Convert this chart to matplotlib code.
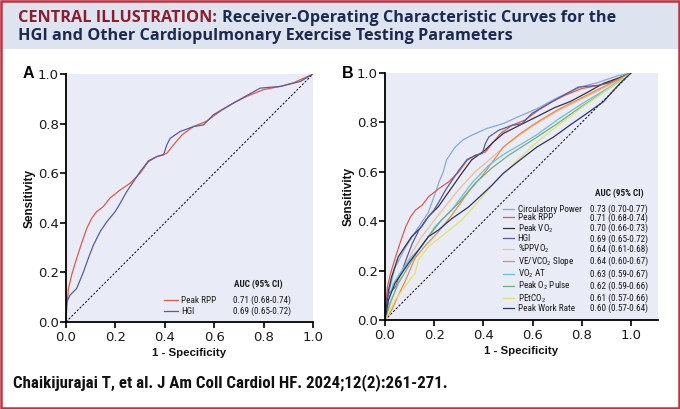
import matplotlib
matplotlib.use('Agg')
import matplotlib.pyplot as plt
from matplotlib import font_manager
from matplotlib.patches import Rectangle
from matplotlib.transforms import IdentityTransform

# --- fonts ---
avail = {f.name for f in font_manager.fontManager.ttflist}
NARROW = next((n for n in ['Roboto Condensed', 'Liberation Sans Narrow', 'Open Sans Condensed']
               if n in avail), 'Liberation Sans')
BODY = ['Liberation Sans', 'DejaVu Sans']
plt.rcParams['font.family'] = BODY
plt.rcParams['mathtext.default'] = 'regular'

# --- data: ROC curves (1 - specificity, sensitivity) ---
FPR_RPP = [0, 0.003, 0.01, 0.023, 0.043, 0.064, 0.084, 0.104, 0.124, 0.151, 0.178, 0.219, 0.26, 0.3,
           0.334, 0.368, 0.408, 0.435, 0.47, 0.516, 0.57, 0.624, 0.678, 0.732, 0.8, 0.868, 0.92, 1.0]
TPR_RPP = [0, 0.06, 0.135, 0.19, 0.256, 0.32, 0.377, 0.418, 0.445, 0.465, 0.5, 0.532, 0.56, 0.6,
           0.647, 0.667, 0.68, 0.714, 0.755, 0.788, 0.81, 0.85, 0.883, 0.91, 0.937, 0.95, 0.964, 1.0]

FPR_HGI = [0, 0.003, 0.016, 0.043, 0.07, 0.09, 0.111, 0.138, 0.165, 0.199, 0.219, 0.246, 0.273, 0.3,
           0.334, 0.368, 0.395, 0.408, 0.422, 0.462, 0.516, 0.557, 0.597, 0.678, 0.786, 0.868, 0.949, 1.0]
TPR_HGI = [0, 0.08, 0.108, 0.135, 0.2, 0.256, 0.31, 0.364, 0.404, 0.445, 0.478, 0.526, 0.566, 0.606,
           0.65, 0.667, 0.674, 0.714, 0.741, 0.768, 0.788, 0.795, 0.836, 0.883, 0.943, 0.95, 0.97, 1.0]

FPR_CIRC = [0, 0.01, 0.02, 0.04, 0.081, 0.122, 0.149, 0.176, 0.203, 0.22, 0.237, 0.25, 0.285, 0.318,
            0.346, 0.413, 0.48, 0.535, 0.617, 0.7, 0.8, 0.86, 0.95, 1.0]
TPR_CIRC = [0, 0.08, 0.13, 0.21, 0.29, 0.355, 0.395, 0.435, 0.51, 0.56, 0.6, 0.648, 0.7, 0.73,
            0.745, 0.775, 0.795, 0.82, 0.855, 0.9, 0.945, 0.96, 0.99, 1.0]

FPR_VO2 = [0, 0.014, 0.027, 0.054, 0.081, 0.108, 0.149, 0.176, 0.217, 0.26, 0.312, 0.352, 0.407, 0.44,
           0.481, 0.55, 0.617, 0.69, 0.752, 0.82, 0.888, 0.95, 1.0]
TPR_VO2 = [0, 0.12, 0.175, 0.256, 0.297, 0.337, 0.378, 0.418, 0.459, 0.52, 0.594, 0.648, 0.688, 0.72,
           0.755, 0.79, 0.823, 0.86, 0.884, 0.92, 0.958, 0.98, 1.0]

FPR_PPVO2 = [0, 0.034, 0.068, 0.108, 0.149, 0.19, 0.244, 0.298, 0.366, 0.42, 0.5, 0.6, 0.7, 0.8, 0.9, 1.0]
TPR_PPVO2 = [0, 0.1, 0.19, 0.27, 0.337, 0.39, 0.459, 0.526, 0.6, 0.645, 0.715, 0.785, 0.845, 0.895, 0.945, 1.0]

FPR_VEVCO2 = [0, 0.027, 0.054, 0.081, 0.122, 0.163, 0.217, 0.271, 0.339, 0.4, 0.481, 0.55, 0.617, 0.7,
              0.8, 0.9, 1.0]
TPR_VEVCO2 = [0, 0.04, 0.1, 0.155, 0.25, 0.3, 0.357, 0.424, 0.518, 0.59, 0.7, 0.755, 0.8, 0.85,
              0.9, 0.95, 1.0]

FPR_VO2AT = [0, 0.014, 0.034, 0.068, 0.108, 0.149, 0.203, 0.271, 0.352, 0.42, 0.481, 0.55, 0.617, 0.7,
             0.8, 0.9, 1.0]
TPR_VO2AT = [0, 0.08, 0.148, 0.2, 0.256, 0.297, 0.378, 0.445, 0.553, 0.625, 0.67, 0.71, 0.75, 0.81,
             0.875, 0.935, 1.0]

FPR_O2P = [0, 0.02, 0.054, 0.095, 0.136, 0.176, 0.23, 0.298, 0.366, 0.434, 0.5, 0.617, 0.7, 0.8, 0.9, 1.0]
TPR_O2P = [0, 0.067, 0.148, 0.216, 0.283, 0.337, 0.405, 0.472, 0.553, 0.615, 0.665, 0.74, 0.795, 0.865,
           0.93, 1.0]

FPR_PETCO2 = [0, 0.014, 0.04, 0.081, 0.122, 0.136, 0.176, 0.244, 0.312, 0.38, 0.447, 0.52, 0.617, 0.7,
              0.8, 0.9, 1.0]
TPR_PETCO2 = [0, 0.027, 0.08, 0.135, 0.19, 0.243, 0.297, 0.35, 0.405, 0.48, 0.56, 0.63, 0.72, 0.785,
              0.86, 0.93, 1.0]

FPR_PWR = [0, 0.014, 0.04, 0.068, 0.095, 0.136, 0.176, 0.217, 0.271, 0.339, 0.386, 0.434, 0.481, 0.549,
           0.617, 0.684, 0.752, 0.82, 0.888, 0.955, 1.0]
TPR_PWR = [0, 0.08, 0.148, 0.189, 0.229, 0.283, 0.337, 0.364, 0.41, 0.457, 0.5, 0.545, 0.594, 0.648,
           0.70, 0.74, 0.789, 0.836, 0.884, 0.958, 1.0]

CHANCE = [0, 1]

NAMES_A = ['Peak RPP', 'HGI']
AUC_A = ['0.71 (0.68-0.74)', '0.69 (0.65-0.72)']

NAMES_B = ['Circulatory Power', 'Peak RPP', 'Peak VO$_2$', 'HGI', '%PPVO$_2$', 'VE/VCO$_2$ Slope',
           'VO$_2$ AT', 'Peak O$_2$ Pulse', 'PEtCO$_2$', 'Peak Work Rate']
AUC_B = ['0.73 (0.70-0.77)', '0.71 (0.68-0.74)', '0.70 (0.66-0.73)', '0.69 (0.65-0.72)',
         '0.64 (0.61-0.68)', '0.64 (0.60-0.67)', '0.63 (0.59-0.67)', '0.62 (0.59-0.66)',
         '0.61 (0.57-0.66)', '0.60 (0.57-0.64)']

TICKS = [0, 0.2, 0.4, 0.6, 0.8, 1.0]

# styles
C_CIRC, C_RPP, C_VO2, C_HGI = '#86abd9', '#de5b4c', '#34343f', '#5a5c9c'
C_PPVO2, C_VEVCO2, C_VO2AT = '#f3bf8c', '#ec8a4e', '#6cc0dc'
C_O2P, C_PETCO2, C_PWR = '#6fb07e', '#dce66a', '#2a3566'
RED_BORDER = '#c3313d'
TITLE_RED = '#8c1d2c'
NAVY = '#1d2a4f'
BAND = '#dee3f0'
PLOT_BG = '#e9ebf6'
TXT = '#1a1a1a'
LEG_FS = 6.6

W, H = 680, 409
fig = plt.figure(figsize=(W / 100, H / 100), dpi=100)

# frame and title band
fig.patches.append(Rectangle((0, 1 - 49 / H), 1, 49 / H, transform=fig.transFigure,
                             facecolor=BAND, edgecolor='none', zorder=0))
fig.patches.append(Rectangle((1.2 / W, 1.2 / H), 1 - 2.4 / W, 1 - 2.4 / H, transform=fig.transFigure,
                             facecolor='none', edgecolor=RED_BORDER, lw=1.8, zorder=10))


def style_axes(ax, xmax):
    ax.set_facecolor(PLOT_BG)
    ax.set_xlim(0, xmax)
    ax.set_ylim(0, 1)
    for s in ['top', 'right']:
        ax.spines[s].set_visible(False)
    for s in ['left', 'bottom']:
        ax.spines[s].set_linewidth(1.3)
        ax.spines[s].set_color('black')
    ax.set_xticks(TICKS)
    ax.set_yticks(TICKS)
    ax.set_xticklabels([f'{t:.1f}' for t in TICKS])
    ax.set_yticklabels([f'{t:.1f}' for t in TICKS])
    ax.tick_params(direction='out', length=4, width=1.2, colors='black', labelcolor=TXT)
    ax.tick_params(axis='y', pad=1.2)
    ax.tick_params(axis='x', pad=2.5)
    for lab in ax.get_xticklabels() + ax.get_yticklabels():
        lab.set_fontfamily('DejaVu Sans')
        lab.set_fontsize(9.5)
    ax.set_xlabel('1 - Specificity', fontsize=8.2, fontweight='bold', color='#111111', labelpad=3)
    ax.set_ylabel('Sensitivity', fontsize=8.5, fontweight='bold', color='#111111', labelpad=1.5)
    ax.plot(CHANCE, CHANCE, color='black', lw=0.7, dashes=(2.2, 1.8), zorder=1)


def auc_legend(ax, lines, names, aucs, hx, y_top, y_bot, hlen, tpad, vx, headx, heady):
    """Legend rows placed at given pixel rows (from the top); AUC column beside it."""
    n = len(names)
    target = (y_bot - y_top) / (n - 1)
    fs_px = LEG_FS * 100 / 72
    ls, ay = 0.2, H - y_bot - fs_px * 0.6
    fam = [NARROW, 'DejaVu Sans']
    for _ in range(3):
        leg = ax.legend(lines, names, loc='lower left', bbox_to_anchor=(hx, ay),
                        bbox_transform=IdentityTransform(), frameon=False,
                        prop={'family': fam, 'size': LEG_FS}, borderpad=0, borderaxespad=0,
                        handlelength=hlen, handletextpad=tpad, labelspacing=ls)
        fig.canvas.draw()
        cs = [(t.get_window_extent().y0 + t.get_window_extent().y1) / 2 for t in leg.get_texts()]
        pitch = (cs[0] - cs[-1]) / (n - 1)
        ls += (target - pitch) / fs_px
        ay += (H - y_bot) - cs[-1]
        leg.remove()
    leg = ax.legend(lines, names, loc='lower left', bbox_to_anchor=(hx, ay),
                    bbox_transform=IdentityTransform(), frameon=False,
                    prop={'family': fam, 'size': LEG_FS}, borderpad=0, borderaxespad=0,
                    handlelength=hlen, handletextpad=tpad, labelspacing=ls)
    fig.canvas.draw()
    for t, val in zip(leg.get_texts(), aucs):
        t.set_color(TXT)
        bb = t.get_window_extent()
        fig.text(vx / W, (bb.y0 + bb.y1) / 2 / H, val, family=fam, fontsize=LEG_FS, color=TXT,
                 va='center')
    fig.text(headx / W, 1 - heady / H, 'AUC (95% CI)', family=fam, fontsize=LEG_FS,
             fontweight='bold', color=TXT, va='center')


# panel A
axA = fig.add_axes([66 / W, (H - 322) / H, 247 / W, 248 / H])
style_axes(axA, 1.0)
lA1, = axA.plot(FPR_RPP, TPR_RPP, color=C_RPP, lw=0.9)
lA2, = axA.plot(FPR_HGI, TPR_HGI, color=C_HGI, lw=0.9)
auc_legend(axA, [lA1, lA2], NAMES_A, AUC_A, 164, 300.7, 311.7, 1.5, 0.35, 233, 234, 284.5)
fig.text(28 / W, 1 - 73 / H, 'A', fontsize=11.5, fontweight='bold', ha='center', va='center')

# panel B
axB = fig.add_axes([385 / W, (H - 320) / H, 273 / W, 247 / H])
style_axes(axB, 273 / 246)
series_b = [(FPR_CIRC, TPR_CIRC, C_CIRC), (FPR_RPP, TPR_RPP, C_RPP), (FPR_VO2, TPR_VO2, C_VO2),
            (FPR_HGI, TPR_HGI, C_HGI), (FPR_PPVO2, TPR_PPVO2, C_PPVO2),
            (FPR_VEVCO2, TPR_VEVCO2, C_VEVCO2), (FPR_VO2AT, TPR_VO2AT, C_VO2AT),
            (FPR_O2P, TPR_O2P, C_O2P), (FPR_PETCO2, TPR_PETCO2, C_PETCO2), (FPR_PWR, TPR_PWR, C_PWR)]
linesB = []
for fx, ty, col in series_b:
    ln, = axB.plot(fx, ty, color=col, lw=0.9)
    linesB.append(ln)
auc_legend(axB, linesB, NAMES_B, AUC_B, 503, 209.3, 308.7, 1.15, 0.45, 589.5, 595, 193.5)
fig.text(348 / W, 1 - 73 / H, 'B', fontsize=11.5, fontweight='bold', ha='center', va='center')

# title and footer, sized to the widths in the original
renderer = fig.canvas.get_renderer()


def fit(txt, target_px):
    w = txt.get_window_extent(renderer).width
    txt.set_fontsize(txt.get_fontsize() * target_px / w)


TITLE_FAM = ['Open Sans', 'DejaVu Sans']
t2 = fig.text(18 / W, 1 - 36 / H, 'HGI and Other Cardiopulmonary Exercise Testing Parameters',
              family=TITLE_FAM, fontweight='bold', fontsize=11, color=NAVY, va='center')
fit(t2, 492)
fs = t2.get_fontsize()
t1a = fig.text(18 / W, 1 - 17.5 / H, 'CENTRAL ILLUSTRATION:', family=TITLE_FAM,
               fontweight='bold', fontsize=fs, color=TITLE_RED, va='center')
x_end = t1a.get_window_extent(renderer).x1
fig.text((x_end + 5) / W, 1 - 17.5 / H, 'Receiver-Operating Characteristic Curves for the',
         family=TITLE_FAM, fontweight='bold', fontsize=fs, color=NAVY, va='center')

foot = fig.text(13 / W, 1 - 383 / H, 'Chaikijurajai T, et al. J Am Coll Cardiol HF. 2024;12(2):261-271.',
                family=[NARROW, 'DejaVu Sans'], fontweight='bold', fontsize=10, color='#111111',
                va='center')
fit(foot, 434)

fig.savefig('out.png', dpi=100)
